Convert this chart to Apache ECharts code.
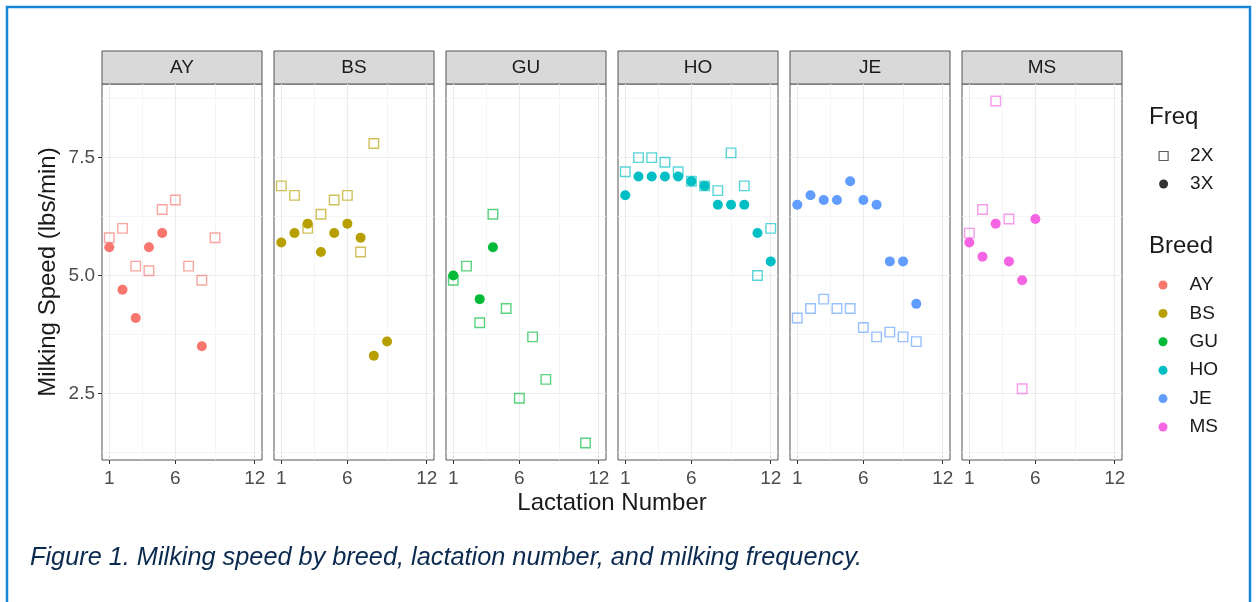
<!DOCTYPE html>
<html>
<head>
<meta charset="utf-8">
<script src="https://cdn.jsdelivr.net/npm/echarts@6/dist/echarts.min.js"></script>
<style>
  html, body { margin: 0; padding: 0; background: #fff; }
  #chart { width: 1256px; height: 602px; }
</style>
</head>
<body>
<div id="chart"></div>
<script>
const breeds = ['AY', 'BS', 'GU', 'HO', 'JE', 'MS']
const breedColors = ['#F8766D', '#B79F00', '#00BA38', '#00BFC4', '#619CFF', '#F564E3']
const lactation = [1, 2, 3, 4, 5, 6, 7, 8, 9, 10, 11, 12]

// milking speed (lbs/min) by lactation number, null = no data
const ay2X = [5.8, 6.0, 5.2, 5.1, 6.4, 6.6, 5.2, 4.9, 5.8, null, null, null]
const ay3X = [5.6, 4.7, 4.1, 5.6, 5.9, null, null, 3.5, null, null, null, null]
const bs2X = [6.9, 6.7, 6.0, 6.3, 6.6, 6.7, 5.5, 7.8, null, null, null, null]
const bs3X = [5.7, 5.9, 6.1, 5.5, 5.9, 6.1, 5.8, 3.3, 3.6, null, null, null]
const gu2X = [4.9, 5.2, 4.0, 6.3, 4.3, 2.4, 3.7, 2.8, null, null, 1.45, null]
const gu3X = [5.0, null, 4.5, 5.6, null, null, null, null, null, null, null, null]
const ho2X = [7.2, 7.5, 7.5, 7.4, 7.2, 7.0, 6.9, 6.8, 7.6, 6.9, 5.0, 6.0]
const ho3X = [6.7, 7.1, 7.1, 7.1, 7.1, 7.0, 6.9, 6.5, 6.5, 6.5, 5.9, 5.3]
const je2X = [4.1, 4.3, 4.5, 4.3, 4.3, 3.9, 3.7, 3.8, 3.7, 3.6, null, null]
const je3X = [6.5, 6.7, 6.6, 6.6, 7.0, 6.6, 6.5, 5.3, 5.3, 4.4, null, null]
const ms2X = [5.9, 6.4, 8.7, 6.2, 2.6, null, null, null, null, null, null, null]
const ms3X = [5.7, 5.4, 6.1, 5.3, 4.9, 6.2, null, null, null, null, null, null]

const twoX = [ay2X, bs2X, gu2X, ho2X, je2X, ms2X]
const threeX = [ay3X, bs3X, gu3X, ho3X, je3X, ms3X]

const xTicks = [1, 6, 12]
const xMinor = [3.5, 9]
const yTicks = [2.5, 5, 7.5]
const yMinor = [1.25, 3.75, 6.25, 8.75]

const font = 'Liberation Sans, Arial, sans-serif'
const panelLeft = 102
const panelStep = 172
const panelWidth = 160
const panelTop = 84
const panelHeight = 376

function pairs(values) {
  return lactation.map((l, i) => [l, values[i]]).filter(p => p[1] != null)
}

function fade(hex, a) {
  const n = parseInt(hex.slice(1), 16)
  return 'rgba(' + (n >> 16) + ',' + ((n >> 8) & 255) + ',' + (n & 255) + ',' + a + ')'
}

const grids = breeds.map((b, i) => ({
  left: panelLeft + i * panelStep,
  top: panelTop,
  width: panelWidth,
  height: panelHeight,
  show: true,
  backgroundColor: '#fff',
  borderColor: '#555',
  borderWidth: 1
}))

const xAxes = breeds.map((b, i) => ({
  type: 'value',
  gridIndex: i,
  min: 0.45,
  max: 12.55,
  axisLine: { show: false },
  splitLine: { show: false },
  axisTick: { customValues: xTicks, length: 4, lineStyle: { color: '#333' } },
  axisLabel: { customValues: xTicks, margin: 9, color: '#4d4d4d', fontSize: 19, fontFamily: font }
}))

const yAxes = breeds.map((b, i) => ({
  type: 'value',
  gridIndex: i,
  min: 1.09,
  max: 9.06,
  axisLine: { show: false },
  splitLine: { show: false },
  axisTick: { show: i === 0, customValues: yTicks, length: 4, lineStyle: { color: '#333' } },
  axisLabel: {
    show: i === 0,
    customValues: yTicks,
    margin: 7,
    color: '#4d4d4d',
    fontSize: 19,
    fontFamily: font,
    formatter: v => v.toFixed(1)
  }
}))

const series = []
breeds.forEach((b, i) => {
  // grid lines, major and minor, drawn through the axes
  series.push({
    type: 'scatter',
    name: 'grid' + i,
    xAxisIndex: i,
    yAxisIndex: i,
    data: [],
    silent: true,
    z: 1,
    markLine: {
      silent: true,
      symbol: 'none',
      animation: false,
      z: 1,
      label: { show: false },
      lineStyle: { type: 'solid' },
      data: [
        ...yTicks.map(v => ({ yAxis: v, lineStyle: { color: '#ebebeb', width: 1.1, type: 'solid' } })),
        ...yMinor.map(v => ({ yAxis: v, lineStyle: { color: '#f3f3f3', width: 0.8, type: 'solid' } })),
        ...xTicks.map(v => ({ xAxis: v, lineStyle: { color: '#ebebeb', width: 1.1, type: 'solid' } })),
        ...xMinor.map(v => ({ xAxis: v, lineStyle: { color: '#f3f3f3', width: 0.8, type: 'solid' } }))
      ]
    }
  })
  series.push({
    type: 'scatter',
    name: b,
    xAxisIndex: i,
    yAxisIndex: i,
    data: pairs(twoX[i]),
    symbol: 'rect',
    symbolSize: 9.5,
    z: 3,
    itemStyle: { color: 'rgba(0,0,0,0)', borderColor: fade(breedColors[i], 0.65), borderWidth: 1.4, opacity: 1 }
  })
  series.push({
    type: 'scatter',
    name: b,
    xAxisIndex: i,
    yAxisIndex: i,
    data: pairs(threeX[i]),
    symbol: 'circle',
    symbolSize: 10,
    z: 4,
    itemStyle: { color: breedColors[i], opacity: 1 }
  })
})
series.push({ type: 'scatter', name: '2X', data: [] })
series.push({ type: 'scatter', name: '3X', data: [] })

const graphics = [
  {
    type: 'rect',
    shape: { x: 7, y: 7, width: 1243, height: 700 },
    style: { fill: 'none', stroke: '#1787d8', lineWidth: 2.5 }
  },
  {
    type: 'text',
    x: 48,
    y: 272,
    rotation: Math.PI / 2,
    style: { text: 'Milking Speed (lbs/min)', fontSize: 24, fontFamily: font, fill: '#1a1a1a', align: 'center', verticalAlign: 'middle' }
  },
  {
    type: 'text',
    x: 612,
    y: 503,
    style: { text: 'Lactation Number', fontSize: 24, fontFamily: font, fill: '#1a1a1a', align: 'center', verticalAlign: 'middle' }
  },
  {
    type: 'text',
    x: 1149,
    y: 117,
    style: { text: 'Freq', fontSize: 24, fontFamily: font, fill: '#1a1a1a', align: 'left', verticalAlign: 'middle' }
  },
  {
    type: 'text',
    x: 1149,
    y: 246,
    style: { text: 'Breed', fontSize: 24, fontFamily: font, fill: '#1a1a1a', align: 'left', verticalAlign: 'middle' }
  },
  {
    type: 'text',
    x: 30,
    y: 558,
    style: {
      text: 'Figure 1. Milking speed by breed, lactation number, and milking frequency.',
      fontSize: 25.3,
      fontStyle: 'italic',
      fontFamily: font,
      fill: '#0b2a4f',
      align: 'left',
      verticalAlign: 'middle'
    }
  }
]
breeds.forEach((b, i) => {
  graphics.push({
    type: 'rect',
    shape: { x: panelLeft + i * panelStep, y: 51, width: panelWidth, height: 33 },
    style: { fill: '#d9d9d9', stroke: '#555', lineWidth: 1 }
  })
  graphics.push({
    type: 'text',
    x: panelLeft + i * panelStep + panelWidth / 2,
    y: 67.5,
    style: { text: b, fontSize: 19, fontFamily: font, fill: '#1a1a1a', align: 'center', verticalAlign: 'middle' }
  })
})

const legendText = { fontSize: 19, lineHeight: 20, color: '#1a1a1a', fontFamily: font, padding: [0, 0, 0, 17] }

const chart = echarts.init(document.getElementById('chart'), null, { renderer: 'canvas' })
chart.setOption({
  animation: false,
  backgroundColor: '#fff',
  grid: grids,
  xAxis: xAxes,
  yAxis: yAxes,
  legend: [
    {
      orient: 'vertical',
      left: 1153.5,
      top: 141,
      itemWidth: 9,
      itemHeight: 9,
      itemGap: 8,
      selectedMode: false,
      textStyle: legendText,
      data: [
        { name: '2X', icon: 'rect', itemStyle: { color: 'rgba(0,0,0,0)', borderColor: '#333', borderWidth: 1.2 } },
        { name: '3X', icon: 'circle', itemStyle: { color: '#000', borderWidth: 0 } }
      ]
    },
    {
      orient: 'vertical',
      left: 1153.5,
      top: 270,
      itemWidth: 9,
      itemHeight: 9,
      itemGap: 8.4,
      selectedMode: false,
      textStyle: legendText,
      data: breeds.map((b, i) => ({ name: b, icon: 'circle', itemStyle: { color: breedColors[i], borderWidth: 0 } }))
    }
  ],
  graphic: graphics,
  series: series
})
</script>
</body>
</html>
